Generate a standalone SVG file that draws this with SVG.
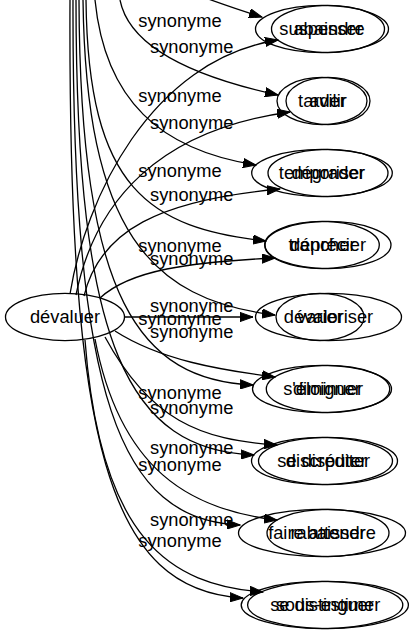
<svg xmlns="http://www.w3.org/2000/svg" width="415" height="635" viewBox="0 0 415 635">
<style>
text{font-family:"Liberation Sans",Arial,sans-serif;font-size:18.3px;fill:#000}
.n{text-anchor:middle}
ellipse{fill:none;stroke:#000;stroke-width:1.3}
.e path{fill:none;stroke:#000;stroke-width:1.3;marker-end:url(#ah)}
</style>
<defs>
<marker id="ah" markerUnits="userSpaceOnUse" markerWidth="14" markerHeight="10" refX="13" refY="5" orient="auto" viewBox="0 0 14 10">
<path d="M0,0.4 L13,5 L0,9.6 z" fill="#000" stroke="#000" stroke-width="1"/>
</marker>
</defs>
<rect width="415" height="635" fill="#fff"/>
<g id="connectors" class="e">
<path d="M200,-4 C222,4 242,11 262,17"/>
<path d="M120,0 C130,50 200,78 278,95"/>
<path d="M95,0 C105,100 160,150 256,165"/>
<path d="M86,0 C88,190 150,228 266,241"/>
<path d="M83,0 C86,230 150,300 275,315"/>
<path d="M79,0 C80,300 140,380 253,385"/>
<path d="M76,0 C76,350 130,450 254,455"/>
<path d="M73,0 C72,400 120,520 240,525"/>
<path d="M70,0 C68,450 110,590 243,598"/>
<path d="M70,294 C85,200 150,60 278,40"/>
<path d="M76,295 C95,200 160,130 290,112"/>
<path d="M84,296 C100,230 160,200 280,189"/>
<path d="M100,298 C130,270 190,262 275,258"/>
<path d="M124.5,317 L253,317"/>
<path d="M115,331 C160,360 220,370 275,377"/>
<path d="M105,337 C150,420 200,440 277,445"/>
<path d="M95,339 C120,470 190,510 277,520"/>
<path d="M85,340 C100,540 170,585 263,592"/>
</g>
<g id="labels">
<text x="138.3" y="26.7">synonyme</text>
<text x="138.3" y="102.3">synonyme</text>
<text x="138.3" y="177">synonyme</text>
<text x="138.3" y="251.7">synonyme</text>
<text x="138.3" y="325">synonyme</text>
<text x="138.3" y="399">synonyme</text>
<text x="138.3" y="471">synonyme</text>
<text x="138.3" y="547">synonyme</text>
<text x="150" y="53.3">synonyme</text>
<text x="150" y="129">synonyme</text>
<text x="150" y="201">synonyme</text>
<text x="150" y="265">synonyme</text>
<text x="150" y="311.7">synonyme</text>
<text x="150" y="338">synonyme</text>
<text x="150" y="414">synonyme</text>
<text x="150" y="454">synonyme</text>
<text x="150" y="526">synonyme</text>
</g>
<g id="devaluer"><ellipse cx="65" cy="317" rx="59.5" ry="23.6"/><text class="n" x="65" y="322.5">dévaluer</text></g>
<g id="suspendre"><ellipse cx="322" cy="29" rx="66.5" ry="23.6"/><text class="n" x="322" y="34.5">suspendre</text></g>
<g id="abaisser"><ellipse cx="328" cy="29" rx="56.5" ry="23.6"/><text class="n" x="328" y="34.5">abaisser</text></g>
<g id="tarder"><ellipse cx="322" cy="101" rx="45" ry="23.6"/><text class="n" x="322" y="106.5">tarder</text></g>
<g id="avilir"><ellipse cx="328" cy="101" rx="42" ry="23.6"/><text class="n" x="328" y="106.5">avilir</text></g>
<g id="temporiser"><ellipse cx="322" cy="173" rx="70.3" ry="23.6"/><text class="n" x="322" y="178.5">temporiser</text></g>
<g id="degrader"><ellipse cx="328" cy="173" rx="60" ry="23.6"/><text class="n" x="328" y="178.5">dégrader</text></g>
<g id="trancher"><ellipse cx="322" cy="245" rx="57.3" ry="23.6"/><text class="n" x="322" y="250.5">trancher</text></g>
<g id="deprecier"><ellipse cx="328" cy="245" rx="63" ry="23.6"/><text class="n" x="328" y="250.5">déprécier</text></g>
<g id="varier"><ellipse cx="320" cy="317" rx="44" ry="23.6"/><text class="n" x="320" y="322.5">varier</text></g>
<g id="devaloriser"><ellipse cx="328.5" cy="317" rx="73" ry="23.6"/><text class="n" x="328.5" y="322.5">dévaloriser</text></g>
<g id="seloigner"><ellipse cx="322" cy="389" rx="69.5" ry="23.6"/><text class="n" x="322" y="394.5">s'éloigner</text></g>
<g id="diminuer"><ellipse cx="328" cy="389" rx="61.7" ry="23.6"/><text class="n" x="328" y="394.5">diminuer</text></g>
<g id="sedisputer"><ellipse cx="322" cy="461" rx="70.5" ry="23.6"/><text class="n" x="322" y="466.5">se disputer</text></g>
<g id="discrediter"><ellipse cx="328" cy="461" rx="69.5" ry="23.6"/><text class="n" x="328" y="466.5">discréditer</text></g>
<g id="faireattendre"><ellipse cx="322" cy="533" rx="83.5" ry="23.6"/><text class="n" x="322" y="538.5">faire attendre</text></g>
<g id="rabaisser"><ellipse cx="328" cy="533" rx="61" ry="23.6"/><text class="n" x="328" y="538.5">rabaisser</text></g>
<g id="sedistinguer"><ellipse cx="322" cy="605" rx="80.8" ry="23.6"/><text class="n" x="322" y="610.5">se distinguer</text></g>
<g id="sousestimer"><ellipse cx="328" cy="605" rx="80.4" ry="23.6"/><text class="n" x="328" y="610.5">sous-estimer</text></g>
</svg>
